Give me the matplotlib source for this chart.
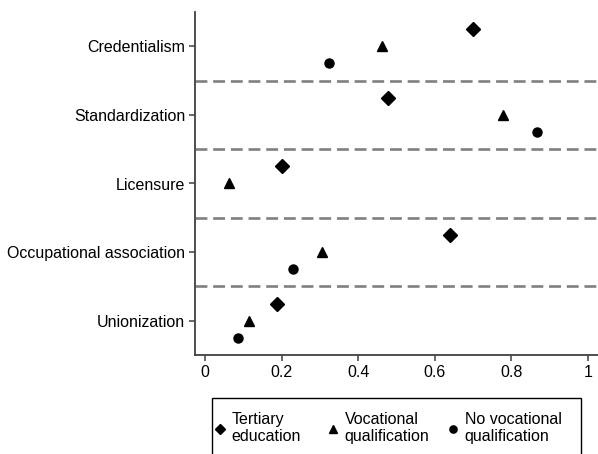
import matplotlib
matplotlib.use('Agg')
import matplotlib.pyplot as plt
from matplotlib.patches import Rectangle

plt.rcParams['font.family'] = ['Liberation Sans', 'DejaVu Sans']
plt.rcParams['font.size'] = 11.5

categories = ['Credentialism', 'Standardization', 'Licensure',
              'Occupational association', 'Unionization']
tertiary = [0.70, 0.477, 0.201, 0.639, 0.188]
vocational = [0.463, 0.779, 0.063, 0.305, 0.115]
no_vocational = [0.324, 0.866, None, 0.231, 0.086]
x_ticks = [0, 0.2, 0.4, 0.6, 0.8, 1]
x_ticklabels = ['0', '0.2', '0.4', '0.6', '0.8', '1']

W, H = 598, 454
fig = plt.figure(figsize=(W / 100, H / 100), dpi=100)
ax = fig.add_axes([195 / W, 1 - 355 / H, 403 / W, 343 / H])

ypos = [len(categories) - i for i in range(len(categories))]

def pts(vals, off):
    xs, ys = [], []
    for y, v in zip(ypos, vals):
        if v is None:
            continue
        xs.append(v)
        ys.append(y + off)
    return xs, ys

for y in ypos[:-1]:
    ax.axhline(y - 0.5, color='#808080', lw=1.9, ls=(0, (4.5, 2.2)), zorder=1)

handles = []
xs, ys = pts(tertiary, 0.25)
handles += ax.plot(xs, ys, 'D', color='black', ms=6.8, ls='none', label='Tertiary\neducation', zorder=3)
xs, ys = pts(vocational, 0.0)
handles += ax.plot(xs, ys, '^', color='black', ms=7, ls='none', label='Vocational\nqualification', zorder=3)
xs, ys = pts(no_vocational, -0.25)
handles += ax.plot(xs, ys, 'o', color='black', ms=6.5, ls='none', label='No vocational\nqualification', zorder=3)

ax.set_xlim(-0.026, 1.026)
ax.set_ylim(0.5, 5.5)
ax.set_yticks(ypos)
ax.set_yticklabels(categories)
ax.set_xticks(x_ticks)
ax.set_xticklabels(x_ticklabels)

for s in ['top', 'right']:
    ax.spines[s].set_visible(False)
for s in ['left', 'bottom']:
    ax.spines[s].set_color('#404040')
    ax.spines[s].set_linewidth(1.3)
ax.tick_params(axis='both', direction='out', length=4, width=1.1, color='#404040',
               labelsize=11.5, pad=3)

# legend box (runs off the bottom edge like the original)
fig.patches.append(Rectangle((212 / W, 1 - 462 / H), 369 / W, 64 / H,
                             transform=fig.transFigure, fill=False,
                             edgecolor='black', lw=1.0))
# one small legend per entry so the columns sit where they do in the original
for h, x0 in zip(handles, [216, 329, 449]):
    fig.legend([h], [h.get_label()], loc='upper left',
               bbox_to_anchor=(x0 / W, 1 - 412 / H),
               bbox_transform=fig.transFigure, frameon=False,
               handlelength=0.5, handletextpad=0.49,
               borderpad=0, borderaxespad=0, fontsize=11.5,
               markerscale=0.8)

fig.savefig('out.png', dpi=100)
